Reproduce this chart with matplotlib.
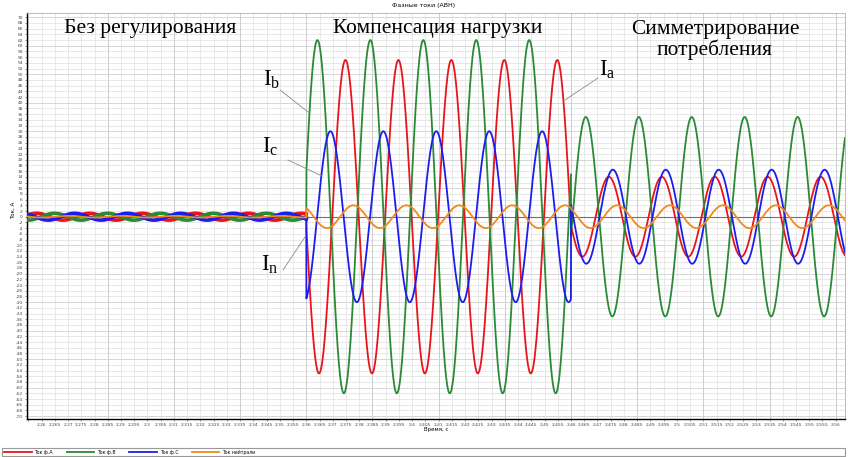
import numpy as np
import matplotlib
matplotlib.use('Agg')
import matplotlib.pyplot as plt
import matplotlib.ticker as ticker
from matplotlib.lines import Line2D
from matplotlib.patches import Rectangle

# == values
t_start, t_end = 2.2545, 2.5635      # visible time range, s
t_switch = [2.36, 2.46]              # compensation on, symmetrization on
period = 0.02                        # 50 Hz

# per regime: [no control, load compensation, symmetrization]
ia_amp = [1.2, 55.0, 14.0]
ia_peak = [2.2581, 2.3748, 2.5543]
ib_amp = [1.2, 62.0, 35.0]
ib_peak = [2.2649, 2.3642, 2.5456]
ic_amp = [1.2, 30.0, 16.5]
ic_peak = [2.2725, 2.3691, 2.5558]
in_amp = [0.3, 4.0, 4.0]
in_peak = [2.2700, 2.3778, 2.5574]

series_names = ['Ток ф.А', 'Ток ф.В', 'Ток ф.С', 'Ток нейтрали']
series_colors = ['#e8141c', '#2a8a36', '#1c1cf0', '#f08a1c']
regime_titles = ['Без регулирования', 'Компенсация нагрузки', 'Симметрирование\nпотребления']


def wave(t, amps, peaks):
    reg = np.searchsorted(t_switch, t, side='right')
    a = np.take(amps, reg)
    p = np.take(peaks, reg)
    return a * np.cos(2 * np.pi * (t - p) / period)


def xfmt(v, pos):
    # the reference has no label at the very left edge
    if v < 2.2575:
        return ''
    return '%g' % round(v, 4)


plt.rcParams['font.family'] = ['DejaVu Sans']
plt.rcParams['mathtext.fontset'] = 'custom'
plt.rcParams['mathtext.rm'] = 'Liberation Serif'

W, H = 848, 457
fig = plt.figure(figsize=(W / 100, H / 100), dpi=100)
ax = fig.add_axes([27 / W, 38 / H, 818 / W, 406 / H])

t = np.linspace(t_start, t_end, 8000)
all_data = [(ia_amp, ia_peak), (ib_amp, ib_peak), (ic_amp, ic_peak), (in_amp, in_peak)]
handles = []
for (amps, peaks), name, col in zip(all_data, series_names, series_colors):
    y = wave(t, amps, peaks)
    ln, = ax.plot(t, y, color=col, lw=1.3, zorder=3)
    handles.append(ln)
    # first regime looks thicker on the original
    m = t < t_switch[0]
    if name != 'Ток нейтрали':
        ax.plot(t[m], y[m], color=col, lw=2.6, zorder=3)

ax.axhline(0, color='#707070', lw=0.8, zorder=2)

# axes / grid
ax.set_xlim(t_start, t_end)
ax.set_ylim(-71, 71.5)
ax.xaxis.set_major_locator(ticker.MultipleLocator(0.005))
ax.xaxis.set_major_formatter(ticker.FuncFormatter(xfmt))
ax.yaxis.set_major_locator(ticker.MultipleLocator(2))
ax.yaxis.set_major_formatter(ticker.FuncFormatter(lambda v, p: '%d' % round(v)))
ax.tick_params(labelsize=3.2, length=1.5, width=0.4, pad=1.5, colors='#444444')
ax.grid(True, color='#e4e4e4', lw=0.6, zorder=0)
for xv in np.arange(2.285, t_end, 0.025):
    ax.axvline(xv, color='#c8c8c8', lw=0.6, zorder=1)
for yv in np.arange(-70, 71, 10):
    ax.axhline(yv, color='#d4d4d4', lw=0.6, zorder=1)
ax.set_axisbelow(True)
for s in ['top', 'right']:
    ax.spines[s].set_color('#b0b0b0')
    ax.spines[s].set_linewidth(0.6)
for s in ['left', 'bottom']:
    ax.spines[s].set_color('black')
    ax.spines[s].set_linewidth(1.0)

fig.text(0.5, 1 - 6 / H, 'Фазные токи (АВН)', fontsize=4.5, ha='center', va='center')
fig.text(13 / W, 1 - 210 / H, 'Ток, А', fontsize=4, rotation=90, ha='center', va='center')
fig.text(436 / W, 1 - 430 / H, 'Время, с', fontsize=4, ha='center', va='center')

# regime captions
serif = 'Liberation Serif'
fig.text(150 / W, 1 - 28 / H, regime_titles[0], family=serif, fontsize=15.6, ha='center', va='center')
fig.text(438 / W, 1 - 28 / H, regime_titles[1], family=serif, fontsize=15.4, ha='center', va='center')
fig.text(715 / W, 1 - 40 / H, regime_titles[2], family=serif, fontsize=15.4, ha='center', va='center',
         linespacing=1.0)

# phase labels with leader lines
labels = [(r'$\mathrm{I_b}$', 272, 80, [(280, 90), (308, 112)]),
          (r'$\mathrm{I_a}$', 607, 70, [(598, 78), (565, 100)]),
          (r'$\mathrm{I_c}$', 270, 146, [(288, 160), (322, 176)]),
          (r'$\mathrm{I_n}$', 270, 264, [(283, 270), (305, 237)])]
for txt, lx, ly, pts in labels:
    fig.text(lx / W, 1 - ly / H, txt, fontsize=16.5, ha='center', va='center')
    fig.add_artist(Line2D([pts[0][0] / W, pts[1][0] / W], [1 - pts[0][1] / H, 1 - pts[1][1] / H],
                          color='#8a8a8a', lw=0.6, transform=fig.transFigure))

# legend strip at the bottom
fig.patches.append(Rectangle((2 / W, 1 - 456 / H), 843 / W, 8 / H, transform=fig.transFigure,
                             fill=False, ec='#999999', lw=0.8))
fig.legend(handles, series_names, loc='center left', bbox_to_anchor=(2 / W, 1 - 452 / H),
           ncol=4, frameon=False, fontsize=3.3, handlelength=6, columnspacing=3, borderpad=0,
           handletextpad=0.6)

plt.savefig('out.png', dpi=100)
